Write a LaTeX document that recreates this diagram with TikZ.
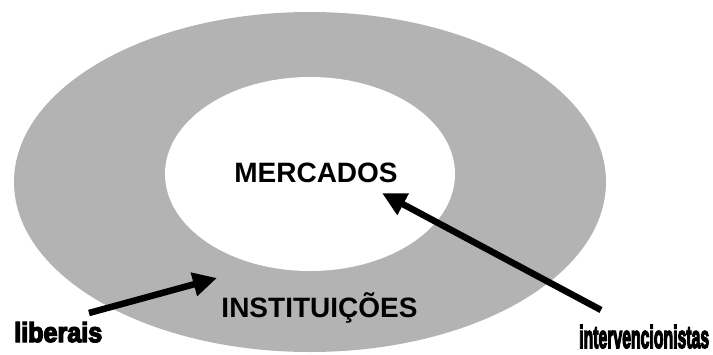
\documentclass[tikz,border=0pt]{standalone}
\usepackage{fontspec}
\setmainfont{Liberation Sans}
\newfontfamily\heavyfont[FakeBold=5]{Liberation Sans Bold}
\usetikzlibrary{shapes.geometric,arrows.meta}
\definecolor{ringgray}{RGB}{179,179,179}
\tikzset{
  blob/.style={ellipse, draw=none, inner sep=0pt},
  bigtext/.style={font=\fontsize{28}{30}\selectfont\bfseries, inner sep=0pt, anchor=base},
  tag/.style={inner sep=0pt, anchor=base west},
  bigarrow/.style={line width=6.5pt, -{Triangle[length=24pt,width=23pt]}, line cap=butt}
}
\begin{document}
\begin{tikzpicture}[x=1pt,y=-1pt]
  \useasboundingbox (0,0) rectangle (713,354);
  \clip (0,0) rectangle (713,354);
  \node[blob, fill=ringgray, minimum width=592pt, minimum height=340pt] (outer) at (310,182) {};
  \node[blob, fill=white, minimum width=290pt, minimum height=194pt] (inner) at (310,174) {};
  \node[bigtext] (merc) at (316,182) {MERCADOS};
  \node[bigtext] (inst) at (319.5,317) {INSTITUIÇÕES};
  \node[tag] (lib) at (14,342) {\resizebox{88pt}{20pt}{\heavyfont liberais}};
  \node[tag] (int) at (579,348) {\resizebox{130pt}{23pt}{\heavyfont intervencionistas}};
  \coordinate (libtail) at (89,313);
  \coordinate (libtip) at (217,278);
  \coordinate (inttail) at (601,310);
  \coordinate (inttip) at (382,193);
  \draw[bigarrow] (libtail) -- (libtip);
  \draw[bigarrow] (inttail) -- (inttip);
\end{tikzpicture}
\end{document}
